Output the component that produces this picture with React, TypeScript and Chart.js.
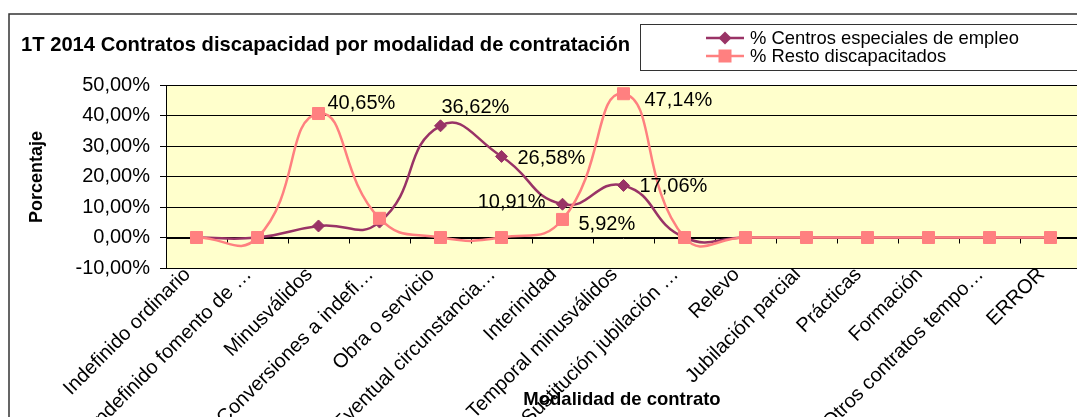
import React, { useEffect, useRef } from "react";
import { Chart, registerables } from "chart.js";
Chart.register(...registerables);

const categories = [
  "Indefinido ordinario",
  "Indefinido fomento de …",
  "Minusválidos",
  "Conversiones a indefi…",
  "Obra o servicio",
  "Eventual circunstancia…",
  "Interinidad",
  "Temporal minusválidos",
  "Sustitución jubilación …",
  "Relevo",
  "Jubilación parcial",
  "Prácticas",
  "Formación",
  "Otros contratos tempo…",
  "ERROR",
];
const seriesNames = ["% Centros especiales de empleo", "% Resto discapacitados"];
const centrosValues = [0, 0, 3.78, 5.05, 36.62, 26.58, 10.91, 17.06, 0, 0, 0, 0, 0, 0, 0];
const restoValues = [0, 0, 40.65, 6.29, 0, 0, 5.92, 47.14, 0, 0, 0, 0, 0, 0, 0];
const yMin = -10;
const yMax = 50;
const yStep = 10;
const chartTitle = "1T 2014 Contratos discapacidad por modalidad de contratación";
const yAxisTitle = "Porcentaje";
const xAxisTitle = "Modalidad de contrato";

// which points carry a data label (dataset index, category index)
const labelledPoints = [
  [1, 2],
  [0, 4],
  [0, 5],
  [0, 6],
  [1, 6],
  [0, 7],
  [1, 7],
];

const FONT = "'Liberation Sans', Arial, Helvetica, sans-serif";
const PURPLE = "#993366";
const PINK = "#FF8080";

const fmtPct = (v: number) => v.toFixed(2).replace(".", ",") + "%";

// label placement styling (offsets relative to the point)
const labelPlacement: Record<string, { dx: number; dy: number; align: CanvasTextAlign }> = {
  "1-2": { dx: 9, dy: -10, align: "left" },
  "0-4": { dx: 1, dy: -18, align: "left" },
  "0-5": { dx: 16, dy: 2, align: "left" },
  "0-6": { dx: -17, dy: -2, align: "right" },
  "1-6": { dx: 16, dy: 5, align: "left" },
  "0-7": { dx: 16, dy: 1, align: "left" },
  "1-7": { dx: 21, dy: 7, align: "left" },
};

function drawDiamond(ctx: CanvasRenderingContext2D, x: number, y: number, r: number, color: string) {
  ctx.beginPath();
  ctx.moveTo(x, y - r);
  ctx.lineTo(x + r, y);
  ctx.lineTo(x, y + r);
  ctx.lineTo(x - r, y);
  ctx.closePath();
  ctx.fillStyle = color;
  ctx.fill();
}
function drawSquare(ctx: CanvasRenderingContext2D, x: number, y: number, s: number, color: string) {
  ctx.fillStyle = color;
  ctx.fillRect(x - s / 2, y - s / 2, s, s);
}

const CW = 1110;
const CH = 440;

export default function App() {
  const ref = useRef<HTMLCanvasElement>(null);
  useEffect(() => {
    const canvas = ref.current!;
    const decor = {
      id: "excelDecor",
      beforeDraw(chart: any) {
        const { ctx, chartArea: a } = chart;
        ctx.save();
        ctx.fillStyle = "#fff";
        ctx.fillRect(0, 0, chart.width, chart.height);
        ctx.fillStyle = "#FFFFCC";
        ctx.fillRect(a.left, a.top, a.right - a.left, a.bottom - a.top);
        // outer frame
        ctx.strokeStyle = "#333";
        ctx.lineWidth = 1.5;
        ctx.strokeRect(1, 6, chart.width + 20, chart.height + 20);
        // title
        ctx.fillStyle = "#000";
        ctx.font = `bold 20.2px ${FONT}`;
        ctx.textBaseline = "middle";
        ctx.textAlign = "left";
        ctx.fillText(chartTitle, 13, 37);
        // legend
        ctx.lineWidth = 1;
        ctx.strokeStyle = "#333";
        ctx.strokeRect(632.5, 16.5, 600, 46);
        const rows = [
          { y: 30, color: PURPLE, kind: "d" },
          { y: 48, color: PINK, kind: "s" },
        ];
        ctx.font = `18.4px ${FONT}`;
        rows.forEach((r, i) => {
          ctx.strokeStyle = r.color;
          ctx.lineWidth = 2.5;
          ctx.beginPath();
          ctx.moveTo(698, r.y);
          ctx.lineTo(736, r.y);
          ctx.stroke();
          if (r.kind === "d") drawDiamond(ctx, 717, r.y, 6.5, r.color);
          else drawSquare(ctx, 717, r.y, 13, r.color);
          ctx.fillStyle = "#000";
          ctx.fillText(seriesNames[i], 742, r.y + 1);
        });
        ctx.restore();
      },
      beforeDatasetsDraw(chart: any) {
        const { ctx, chartArea: a, scales } = chart;
        const y0 = Math.round(scales.y.getPixelForValue(0)) + 0.5;
        ctx.save();
        ctx.strokeStyle = "#000";
        ctx.lineWidth = 1;
        ctx.beginPath();
        ctx.moveTo(a.left, y0);
        ctx.lineTo(a.right, y0);
        const n = categories.length;
        const w = (a.right - a.left) / n;
        for (let i = 0; i <= n; i++) {
          const x = Math.round(a.left + i * w) + 0.5;
          ctx.moveTo(x, y0);
          ctx.lineTo(x, y0 + 5);
        }
        ctx.stroke();
        ctx.restore();
      },
      afterDatasetsDraw(chart: any) {
        const { ctx } = chart;
        ctx.save();
        ctx.font = `20px ${FONT}`;
        ctx.fillStyle = "#000";
        ctx.textBaseline = "middle";
        labelledPoints.forEach(([ds, i]) => {
          const el = chart.getDatasetMeta(ds).data[i];
          const v = chart.data.datasets[ds].data[i] as number;
          const p = labelPlacement[`${ds}-${i}`];
          ctx.textAlign = p.align;
          ctx.fillText(fmtPct(v), el.x + p.dx, el.y + p.dy);
        });
        ctx.restore();
      },
      afterDraw(chart: any) {
        const { ctx } = chart;
        ctx.save();
        ctx.fillStyle = "#000";
        ctx.textAlign = "center";
        ctx.textBaseline = "middle";
        ctx.font = `bold 18.5px ${FONT}`;
        ctx.fillText(xAxisTitle, 614, 392);
        ctx.translate(29, 169);
        ctx.rotate(-Math.PI / 2);
        ctx.font = `bold 18px ${FONT}`;
        ctx.fillText(yAxisTitle, 0, 0);
        ctx.restore();
      },
    };

    const chart = new Chart(canvas, {
      type: "line",
      data: {
        labels: categories,
        datasets: [
          {
            label: seriesNames[0],
            data: centrosValues,
            borderColor: PURPLE,
            backgroundColor: PURPLE,
            borderWidth: 2.5,
            pointStyle: "rectRot",
            pointRadius: 6,
            pointBorderWidth: 1,
            pointBackgroundColor: PURPLE,
            pointBorderColor: PURPLE,
            tension: 0.5,
            order: 1,
          },
          {
            label: seriesNames[1],
            data: restoValues,
            borderColor: PINK,
            backgroundColor: PINK,
            borderWidth: 2.5,
            pointStyle: "rect",
            pointRadius: 8.5,
            pointBorderWidth: 1,
            pointBackgroundColor: PINK,
            pointBorderColor: PINK,
            tension: 0.5,
            order: 0,
          },
        ],
      },
      options: {
        responsive: false,
        animation: false,
        devicePixelRatio: 1,
        layout: { padding: { top: 77, right: CW - 1073, left: 0, bottom: 0 } },
        plugins: { legend: { display: false }, title: { display: false }, tooltip: { enabled: false } },
        scales: {
          x: {
            offset: true,
            grid: { display: false, drawTicks: false },
            border: { display: false },
            ticks: {
              autoSkip: false,
              minRotation: 45,
              maxRotation: 45,
              padding: -5,
              labelOffset: -9,
              color: "#000",
              font: { family: FONT, size: 20 },
            },
            afterFit: (s: any) => {
              s.height = CH - 260;
            },
          },
          y: {
            min: yMin,
            max: yMax,
            grid: { color: "#000", lineWidth: 1, tickLength: 6, drawTicks: true },
            border: { display: true, color: "#000", width: 1 },
            ticks: {
              stepSize: yStep,
              padding: 10,
              color: "#000",
              font: { family: FONT, size: 20 },
              callback: (v: any) => fmtPct(Number(v)),
            },
            afterFit: (s: any) => {
              s.width = 158;
            },
          },
        },
      },
      plugins: [decor],
    });
    return () => chart.destroy();
  }, []);

  return (
    <div style={{ position: "absolute", left: 8, top: 8, width: 1069, height: 409, overflow: "hidden" }}>
      <canvas ref={ref} width={CW} height={CH} style={{ width: CW, height: CH, display: "block" }} />
    </div>
  );
}
